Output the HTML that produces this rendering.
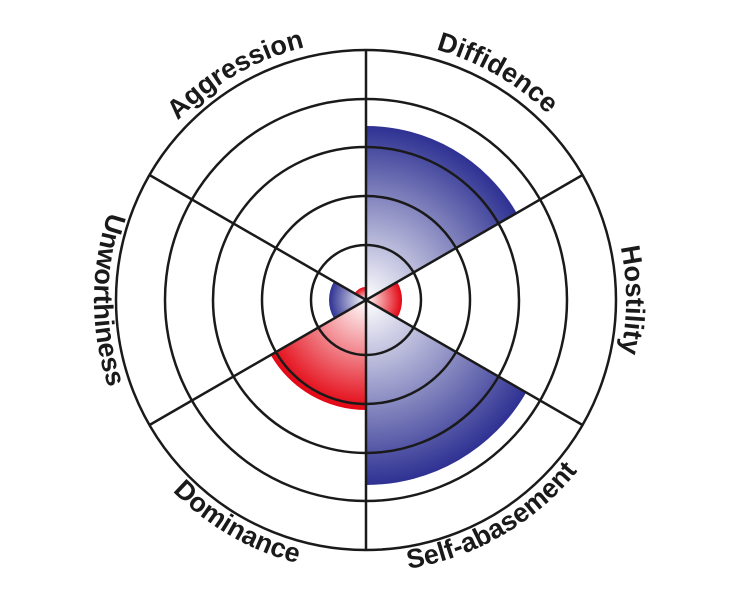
<!DOCTYPE html>
<html><head><meta charset="utf-8"><style>html,body{margin:0;padding:0;background:#fff}svg{display:block}</style></head>
<body>
<svg width="732" height="600" viewBox="0 0 732 600" xmlns="http://www.w3.org/2000/svg">
<defs>
<radialGradient id="b1" gradientUnits="userSpaceOnUse" cx="366" cy="300" r="174"><stop offset="0" stop-color="#fff"/><stop offset="1" stop-color="#2e3192"/></radialGradient>
<radialGradient id="b2" gradientUnits="userSpaceOnUse" cx="366" cy="300" r="185"><stop offset="0" stop-color="#fff"/><stop offset="1" stop-color="#2e3192"/></radialGradient>
<radialGradient id="b3" gradientUnits="userSpaceOnUse" cx="366" cy="300" r="37"><stop offset="0" stop-color="#fff"/><stop offset="1" stop-color="#2e3192"/></radialGradient>
<radialGradient id="r1" gradientUnits="userSpaceOnUse" cx="366" cy="300" r="110"><stop offset="0" stop-color="#fff"/><stop offset="1" stop-color="#e30613"/></radialGradient>
<radialGradient id="r2" gradientUnits="userSpaceOnUse" cx="366" cy="300" r="36"><stop offset="0" stop-color="#fff"/><stop offset="1" stop-color="#e30613"/></radialGradient>
<radialGradient id="r3" gradientUnits="userSpaceOnUse" cx="366" cy="300" r="13"><stop offset="0" stop-color="#fff"/><stop offset="1" stop-color="#e30613"/></radialGradient>
<path id="tAgg" d="M 140.8 170 A 260 260 0 0 1 366 40"/>
<path id="tDif" d="M 366 40 A 260 260 0 0 1 591.2 170"/>
<path id="tHos" d="M 591.2 170 A 260 260 0 0 1 591.2 430"/>
<path id="tSel" d="M 366 572 A 272 272 0 0 0 601.6 436"/>
<path id="tDom" d="M 130.4 436 A 272 272 0 0 0 366 572"/>
<path id="tUnw" d="M 130.4 164 A 272 272 0 0 0 130.4 436"/>
</defs>
<path d="M366 300 L366 126 A174 174 0 0 1 516.7 213 Z" fill="url(#b1)"/>
<path d="M366 300 L526.2 392.5 A185 185 0 0 1 366 485 Z" fill="url(#b2)"/>
<path d="M366 300 L366 410 A110 110 0 0 1 270.7 355 Z" fill="url(#r1)"/>
<path d="M366 300 L397.2 282 A36 36 0 0 1 397.2 318 Z" fill="url(#r2)"/>
<path d="M366 300 L334 318.5 A37 37 0 0 1 334 281.5 Z" fill="url(#b3)"/>
<path d="M366 300 L354.7 293.5 A13 13 0 0 1 366 287 Z" fill="url(#r3)"/>
<g fill="none" stroke="#1a1a1a" stroke-width="2.5">
<circle cx="366" cy="300" r="250"/>
<circle cx="366" cy="300" r="201"/>
<circle cx="366" cy="300" r="153"/>
<circle cx="366" cy="300" r="104"/>
<circle cx="366" cy="300" r="55"/>
<line x1="366" y1="50" x2="366" y2="550"/>
<line x1="149.5" y1="175" x2="582.5" y2="425"/>
<line x1="149.5" y1="425" x2="582.5" y2="175"/>
</g>
<g font-family="Liberation Sans, sans-serif" font-weight="bold" font-size="27" fill="#1a1a1a" text-anchor="middle">
<text><textPath href="#tAgg" startOffset="50%">Aggression</textPath></text>
<text><textPath href="#tDif" startOffset="50%">Diffidence</textPath></text>
<text><textPath href="#tHos" startOffset="50%">Hostility</textPath></text>
<text><textPath href="#tSel" startOffset="50%">Self-abasement</textPath></text>
<text><textPath href="#tDom" startOffset="50%">Dominance</textPath></text>
<text><textPath href="#tUnw" startOffset="50%">Unworthiness</textPath></text>
</g>
</svg>
</body></html>
